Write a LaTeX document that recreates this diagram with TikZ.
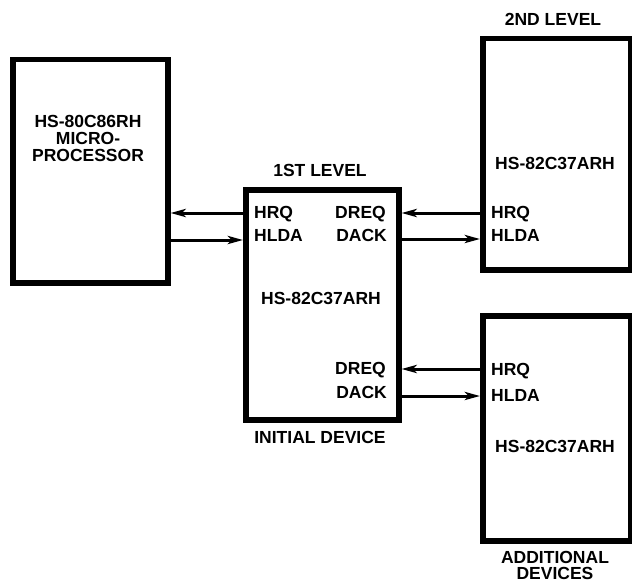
\documentclass[tikz,border=0pt]{standalone}
\usepackage{fontspec}
\setmainfont{Liberation Sans}
\usetikzlibrary{arrows.meta}
\begin{document}
\begin{tikzpicture}[x=1pt,y=-1pt,
  chip/.style={draw,line width=5.5pt,inner sep=0pt,anchor=north west},
  lbl/.style={inner sep=0pt,text height=12.5pt,text depth=0pt,font=\fontsize{17.5}{18}\selectfont\bfseries},
  arr/.style={line width=3pt,-{Stealth[length=15pt,width=8pt,inset=3.5pt]}}]
\useasboundingbox (0,0) rectangle (632,586);
% boxes
\node[chip,minimum width=155pt,minimum height=223pt] (cpu) at (10,57) {};
\node[chip,minimum width=153pt,minimum height=230pt] (mid) at (243,187) {};
\node[chip,minimum width=148pt,minimum height=231pt] (top) at (480,36) {};
\node[chip,minimum width=148pt,minimum height=225pt] (bot) at (480,313) {};
% cpu text
\node[lbl,align=center] (cputxt) at (88,155) {HS-80C86RH\\[-1pt]MICRO-\\[-1pt]PROCESSOR};
% middle box
\node[lbl] (l1) at (320,170) {1ST LEVEL};
\node[lbl] (l2) at (320,437) {INITIAL DEVICE};
\node[lbl,anchor=west] (mhrq) at (254,212.5) {HRQ};
\node[lbl,anchor=west] (mhlda) at (254,235.5) {HLDA};
\node[lbl,anchor=east] (mdreq1) at (386,212.5) {DREQ};
\node[lbl,anchor=east] (mdack1) at (387,235.5) {DACK};
\node[lbl] (mname) at (321,298) {HS-82C37ARH};
\node[lbl,anchor=east] (mdreq2) at (386,368) {DREQ};
\node[lbl,anchor=east] (mdack2) at (387,392) {DACK};
% top right
\node[lbl] (t1) at (553,19) {2ND LEVEL};
\node[lbl] (tname) at (555,163) {HS-82C37ARH};
\node[lbl,anchor=west] (thrq) at (491,212) {HRQ};
\node[lbl,anchor=west] (thlda) at (491,235) {HLDA};
% bottom right
\node[lbl] (bname) at (555,446) {HS-82C37ARH};
\node[lbl,anchor=west] (bhrq) at (491,369) {HRQ};
\node[lbl,anchor=west] (bhlda) at (491,395) {HLDA};
\node[lbl,align=center] (b1) at (555,573) {ADDITIONAL\\[-2pt]DEVICES};
% arrows
\draw[arr] (mid.west |- 0,213) -- (cpu.east |- 0,213);
\draw[arr] (cpu.east |- 0,240) -- (mid.west |- 0,240);
\draw[arr] (top.west |- 0,213) -- (mid.east |- 0,213);
\draw[arr] (mid.east |- 0,239) -- (top.west |- 0,239);
\draw[arr] (bot.west |- 0,369) -- (mid.east |- 0,369);
\draw[arr] (mid.east |- 0,396) -- (bot.west |- 0,396);
\end{tikzpicture}
\end{document}
